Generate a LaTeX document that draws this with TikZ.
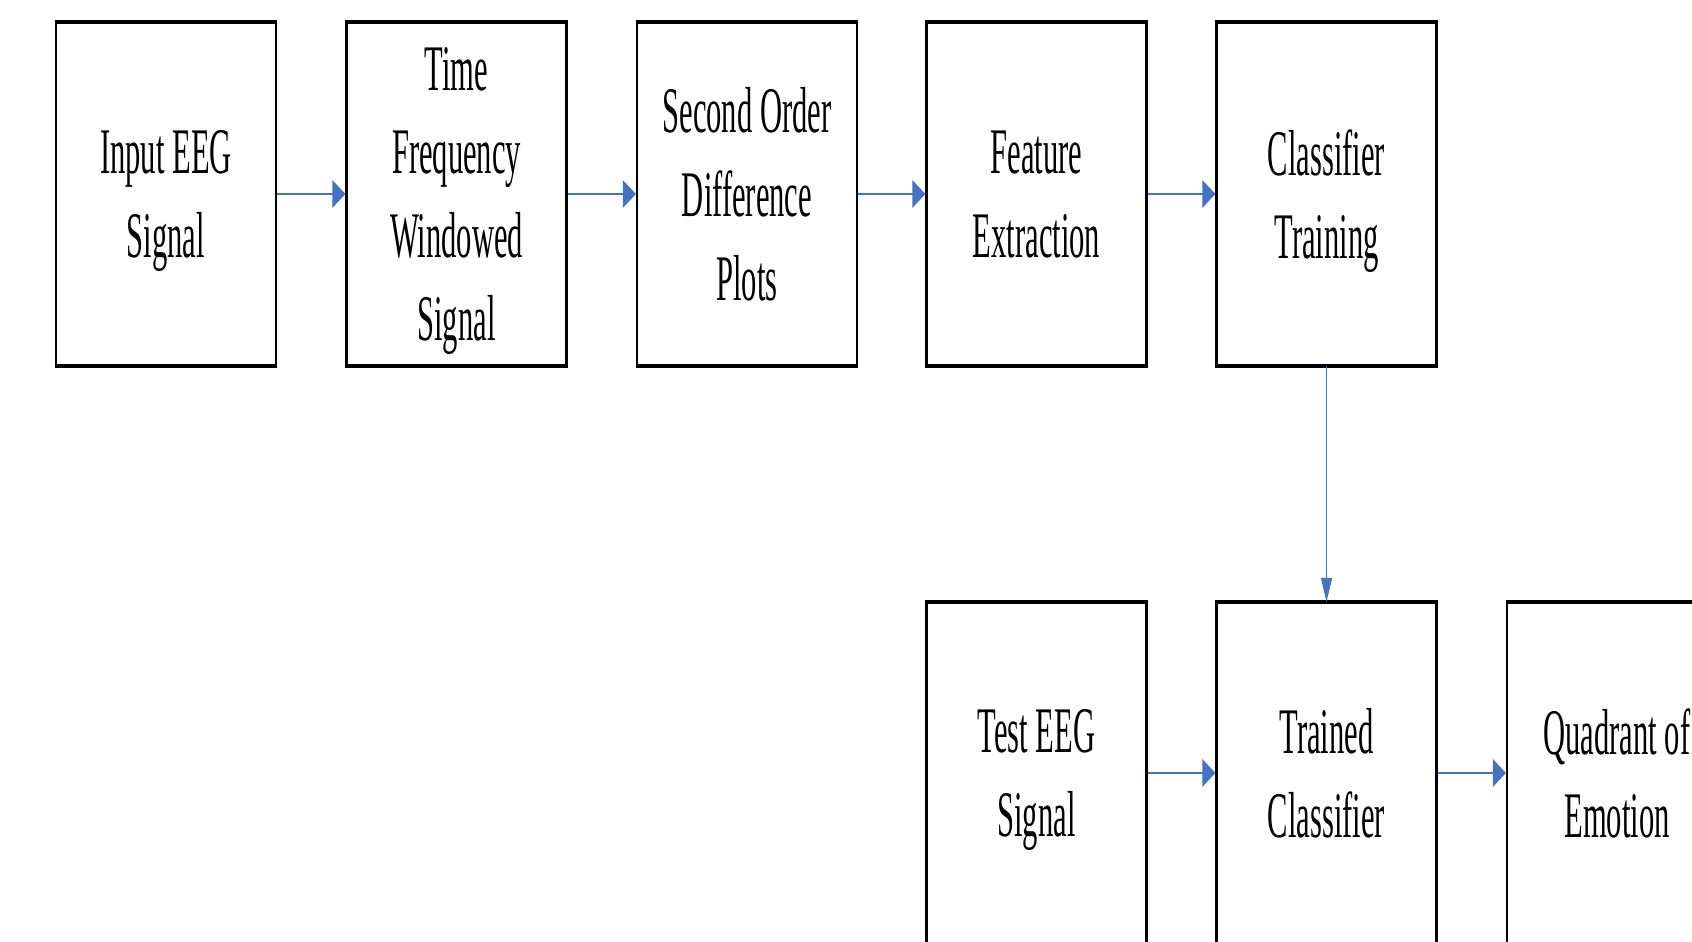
\documentclass[tikz,border=0pt]{standalone}
\usepackage{fontspec}
\setmainfont[FakeStretch=0.47]{Liberation Serif}
\usepackage{tikz}
\usetikzlibrary{arrows.meta}

\definecolor{flowblue}{HTML}{4472C4}

\tikzset{
  block/.style={draw, line width=0.6pt, minimum width=2.2cm, minimum height=3.42cm,
    inner sep=0pt, align=center, text depth=0pt, font=\fontsize{18.5}{23.8}\selectfont,
    append after command={\pgfextra{\let\blocknode=\tikzlastnode}
      (\blocknode.north west) edge[line width=1.2pt] (\blocknode.north east)
      (\blocknode.south west) edge[line width=1.2pt] (\blocknode.south east)}},
  flow/.style={flowblue, line width=0.8pt, -{Triangle[length=0.13cm, width=0.27cm]}},
  flowdown/.style={flowblue, line width=0.35pt, -{Triangle[length=0.24cm, width=0.11cm]}}
}

\begin{document}
\begin{tikzpicture}
            \useasboundingbox (0,0) rectangle (16.92,-9.42);
            \clip (0,0) rectangle (16.92,-9.42);
            % training path
            \node[block] at (1.66, -1.94) (input) {Input EEG\\Signal};
            \node[block] at (4.565, -1.94) (tfw) {Time\\Frequency\\Windowed\\Signal};
            \node[block] at (7.47, -1.94) (sodp) {Second Order\\Difference\\Plots};
            \node[block] at (10.365, -1.94) (feat) {Feature\\Extraction};
            \node[block] at (13.265, -1.94) (train) {Classifier\\Training};
            % testing path
            \node[block, minimum height=3.40cm] at (10.365, -7.73) (test) {Test EEG\\Signal};
            \node[block, minimum height=3.40cm] at (13.265, -7.73) (trained) {Trained\\Classifier};
            \node[block, minimum height=3.40cm] at (16.17, -7.73) (quad) {Quadrant of\\Emotion};
            \draw[flow] (input) -- (tfw);
            \draw[flow] (tfw) -- (sodp);
            \draw[flow] (sodp) -- (feat);
            \draw[flow] (feat) -- (train);
            \draw[flowdown] (train) -- (trained);
            \draw[flow] (test) -- (trained);
            \draw[flow] (trained) -- (quad);
        \end{tikzpicture}
\end{document}
